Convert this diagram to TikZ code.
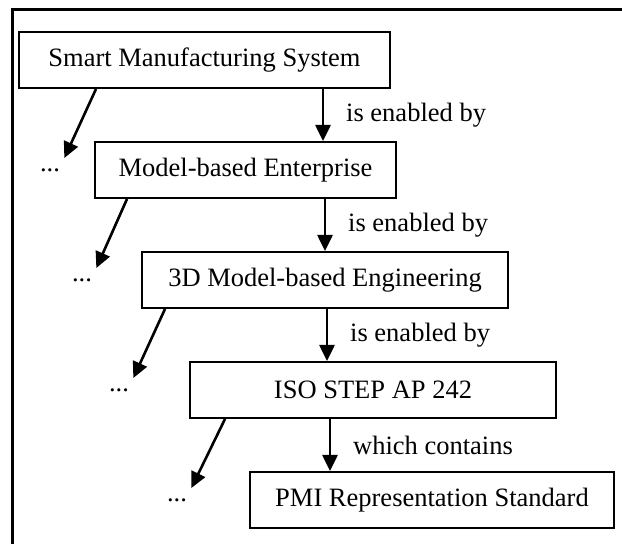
\documentclass[tikz,border=0pt]{standalone}
\usepackage{fontspec}
\setmainfont{Liberation Serif}
\usetikzlibrary{arrows.meta,positioning}

\begin{document}
\begin{tikzpicture}[x=0.5pt,y=-0.5pt,
    every node/.style={font=\fontsize{13.25}{16}\selectfont},
    box/.style={draw,line width=1pt,minimum height=28pt,inner sep=0pt},
    dots/.style={inner xsep=2pt,inner ysep=5pt},
    arr/.style={-{Triangle[width=7.5pt,length=8pt]},line width=1.3pt},
    lbl/.style={midway,anchor=west,xshift=7.6pt}]
      \useasboundingbox (0,0) rectangle (622,544);
      \draw[line width=1.5pt] (12,544) -- (12,10) -- (622,10);

      \node[box,minimum width=185.5pt] (sms) at (204.5,60) {Smart Manufacturing System};
      \node[box,minimum width=150.5pt] (mbe) at (245.5,170) {Model-based Enterprise};
      \node[box,minimum width=183pt] (mbd) at (325,280) {3D Model-based Engineering};
      \node[box,minimum width=183pt] (iso) at (373,390) {ISO STEP AP 242};
      \node[box,minimum width=182pt] (pmi) at (432,500) {PMI Representation Standard};

      \node[dots] (d1) at (50,170) {...};
      \node[dots] (d2) at (82,280) {...};
      \node[dots] (d3) at (119,390) {...};
      \node[dots] (d4) at (177,500) {...};

      \draw[arr] (sms.south -| 323,0) -- (mbe.north -| 323,0) node[lbl] {is enabled by};
      \draw[arr] (mbe.south -| 325,0) -- (mbd.north -| 325,0) node[lbl] {is enabled by};
      \draw[arr] (mbd.south -| 327,0) -- (iso.north -| 327,0) node[lbl] {is enabled by};
      \draw[arr] (iso.south -| 330,0) -- (pmi.north -| 330,0) node[lbl] {which contains};

      \draw[arr] (sms.south -| 96,0) -- (d1.north east);
      \draw[arr] (mbe.south -| 127,0) -- (d2.north east);
      \draw[arr] (mbd.south -| 165,0) -- (d3.north east);
      \draw[arr] (iso.south -| 225,0) -- (d4.north east);
\end{tikzpicture}
\end{document}
